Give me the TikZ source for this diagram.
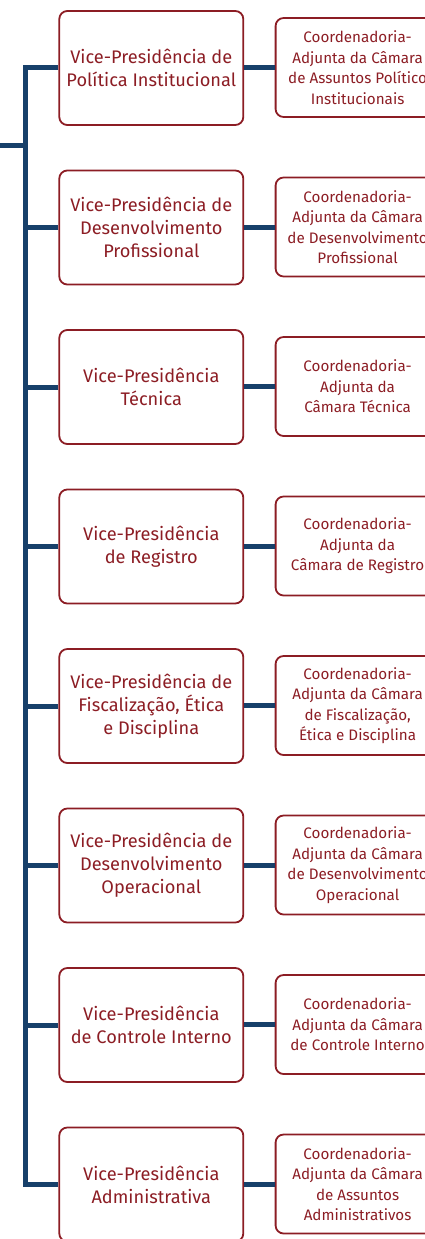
\documentclass[tikz,border=0pt]{standalone}
\usepackage{fontspec}
\setmainfont{Fira Sans}
\definecolor{boxred}{HTML}{8C1D24}
\definecolor{lineblue}{HTML}{17406A}
\begin{document}
\begin{tikzpicture}[x=1pt,y=-1pt,
  vpbox/.style={draw=boxred, line width=1.8pt, rounded corners=8pt, text=boxred,
    minimum width=184pt, minimum height=114pt, inner sep=0pt, align=center,
    font=\fontsize{18.2}{23}\selectfont},
  cabox/.style={draw=boxred, line width=1.8pt, rounded corners=8pt, text=boxred,
    minimum width=164pt, minimum height=99pt, inner sep=0pt, align=center,
    font=\fontsize{15.2}{20.5}\selectfont},
  link/.style={draw=lineblue, line width=5pt}]
\useasboundingbox (0,0) rectangle (425,1239);
\clip (0,0) rectangle (425,1239);
\foreach \i/\vp/\ca in {
  1/{Vice-Presidência de\\Política Institucional}/{Coordenadoria-\\Adjunta da Câmara\\de Assuntos Político\\Institucionais},
  2/{Vice-Presidência de\\Desenvolvimento\\Profissional}/{Coordenadoria-\\Adjunta da Câmara\\de Desenvolvimento\\Profissional},
  3/{Vice-Presidência\\Técnica}/{Coordenadoria-\\Adjunta da\\Câmara Técnica},
  4/{Vice-Presidência\\de Registro}/{Coordenadoria-\\Adjunta da\\Câmara de Registro},
  5/{Vice-Presidência de\\Fiscalização, Ética\\e Disciplina}/{Coordenadoria-\\Adjunta da Câmara\\de Fiscalização,\\Ética e Disciplina},
  6/{Vice-Presidência de\\Desenvolvimento\\Operacional}/{Coordenadoria-\\Adjunta da Câmara\\de Desenvolvimento\\Operacional},
  7/{Vice-Presidência\\de Controle Interno}/{Coordenadoria-\\Adjunta da Câmara\\de Controle Interno},
  8/{Vice-Presidência\\Administrativa}/{Coordenadoria-\\Adjunta da Câmara\\de Assuntos\\Administrativos}} {
  \node[vpbox] (L\i) at (151.3, {68+159.5*(\i-1)}) {\vp};
  \node[cabox] (R\i) at (357.6, {67.5+159.5*(\i-1)}) {\ca};
  \draw[link] (L\i.east |- R\i.west) -- (R\i.west);
}
\coordinate (T1) at (25.5,68);
\coordinate (T8) at (25.5,1184.5);
\coordinate (S) at (0,145);
\draw[link] (L1.west) -- (T1) -- (T8) -- (L8.west);
\foreach \i in {2,...,7} { \draw[link] (L\i.west) -- (L\i.west -| T1); }
\draw[link] (S) -- (S -| T1);
\end{tikzpicture}
\end{document}
